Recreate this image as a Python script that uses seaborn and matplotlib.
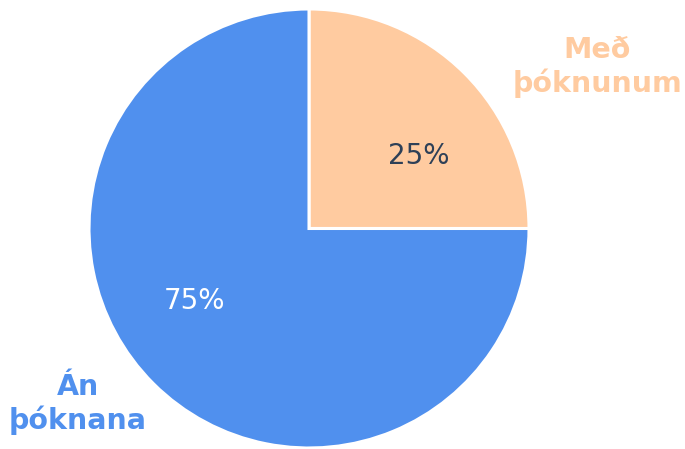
import matplotlib
matplotlib.use("Agg")
import matplotlib.pyplot as plt
import seaborn as sns

sns.set_theme(style="white")
plt.rcParams["font.family"] = ["DejaVu Sans"]

# Data
labels = ["Með\nþóknunum", "Án\nþóknana"]
values = [25, 75]
colors = ["#FFCBA0", "#5090EE"]
pct_colors = ["#2E4057", "white"]

fig = plt.figure(figsize=(6.85, 4.49), dpi=100)
ax = fig.add_axes([0, 0, 1, 1])

wedges, texts, autotexts = ax.pie(
    values,
    labels=labels,
    colors=colors,
    startangle=90,
    counterclock=False,
    autopct="%1.0f%%",
    pctdistance=0.6,
    labeldistance=1.2,
    wedgeprops=dict(edgecolor="white", linewidth=2.2),
    textprops=dict(fontsize=20),
)

# Outer labels: bold, coloured like their slice
label_pos = [(1.31, 0.735), (-1.05, -0.80)]
for t, c, p in zip(texts, colors, label_pos):
    t.set_color(c)
    t.set_fontweight("bold")
    t.set_fontsize(20.5)
    t.set_ha("center")
    t.set_va("center")
    t.set_linespacing(1.2)
    t.set_position(p)

pct_pos = [(0.50, 0.33), (-0.52, -0.33)]
for t, c, p in zip(autotexts, pct_colors, pct_pos):
    t.set_color(c)
    t.set_fontsize(20)
    t.set_position(p)

# Map the unit pie to the reference pixel frame
ax.set_aspect("auto")
ax.set_xlim(-309 / 220, (685 - 309) / 220)
ax.set_ylim(-221 / 220, 229 / 220)
ax.axis("off")

fig.savefig("out.png", dpi=100)
